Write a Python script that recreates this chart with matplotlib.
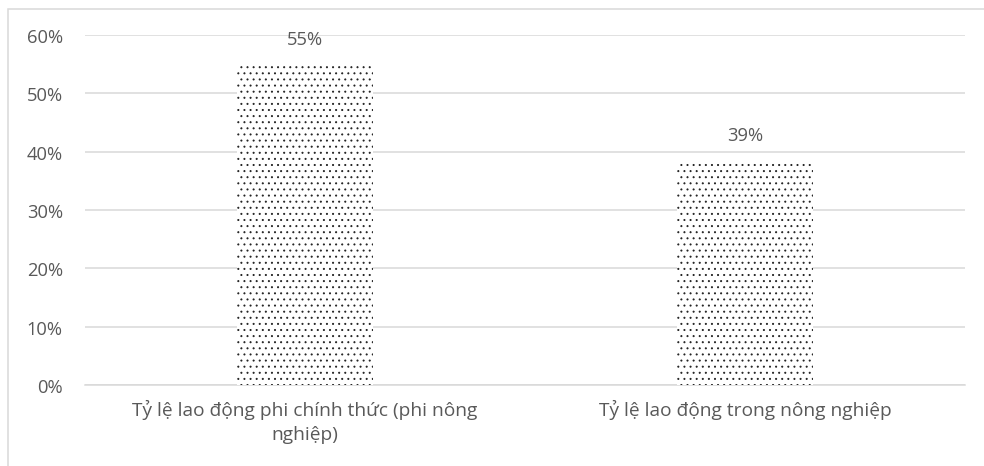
import matplotlib
matplotlib.use("Agg")
import matplotlib.pyplot as plt
from matplotlib.patches import Rectangle
from matplotlib.ticker import PercentFormatter

categories = ["Tỷ lệ lao động phi chính thức (phi nông\nnghiệp)", "Tỷ lệ lao động trong nông nghiệp"]
values = [0.55, 0.386]
yticks = [0, 0.1, 0.2, 0.3, 0.4, 0.5, 0.6]

plt.rcParams['font.family'] = ['Open Sans', 'DejaVu Sans']
plt.rcParams['hatch.linewidth'] = 0.55

DPI = 110
W, H = 984, 467
fig = plt.figure(figsize=(W / DPI, H / DPI), dpi=DPI)
fig.patch.set_facecolor('white')

# outer chart border
fig.patches.append(Rectangle((8 / W, -0.01), 1.0, 1 - 10 / H + 0.01, transform=fig.transFigure,
                             fill=False, edgecolor='#d9d9d9', linewidth=1.0))

ax = fig.add_axes([85 / W, 1 - 386 / H, (965 - 85) / W, (386 - 36) / H])
x = list(range(len(categories)))
bars = ax.bar(x, values, width=0.307, color='white', edgecolor='#222222', linewidth=0, hatch='...', zorder=3)

ax.set_xlim(-0.5, len(categories) - 0.5)
ax.set_ylim(0, 0.6)
ax.set_yticks(yticks)
ax.yaxis.set_major_formatter(PercentFormatter(1.0, decimals=0))
ax.set_xticks(x)
ax.set_xticklabels(categories, linespacing=1.45)

ax.grid(axis='y', color='#d9d9d9', linewidth=1.0, zorder=0)
ax.set_axisbelow(True)
for s in ['top', 'right', 'left']:
    ax.spines[s].set_visible(False)
ax.spines['bottom'].set_color('#d9d9d9')
ax.spines['bottom'].set_linewidth(1.0)
ax.tick_params(axis='both', length=0, colors='#595959')
ax.tick_params(axis='y', pad=14.5, labelsize=12)
ax.tick_params(axis='x', pad=9, labelsize=12.5)

for xi, v in zip(x, values):
    ax.annotate(f"{v:.0%}", (xi, v), xytext=(0, 16.5), textcoords='offset points',
                ha='center', va='center', color='#595959', fontsize=12)

fig.savefig("out.png", dpi=DPI, facecolor='white')
